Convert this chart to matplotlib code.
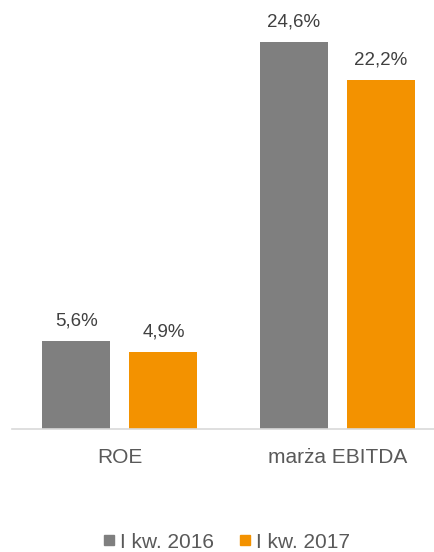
import numpy as np
import matplotlib.pyplot as plt
from matplotlib.lines import Line2D

plt.rcParams['font.family'] = ['Liberation Sans', 'DejaVu Sans']

categories = ['ROE', 'marża EBITDA']
series_names = ['I kw. 2016', 'I kw. 2017']
values_2016 = [5.6, 24.6]
values_2017 = [4.9, 22.2]
labels_2016 = ['5,6%', '24,6%']
labels_2017 = ['4,9%', '22,2%']

gray = '#7F7F7F'
orange = '#F39200'

fig = plt.figure(figsize=(4.35, 5.52), dpi=100)
# axes: x from 12px to 435px, baseline at y=429px from top
ax = fig.add_axes([12 / 435, (552 - 429) / 552, 423 / 435, 429 / 552])

x = np.arange(len(categories))
w = 0.3125
off = 0.2
b1 = ax.bar(x - off, values_2016, w, color=gray)
b2 = ax.bar(x + off, values_2017, w, color=orange)

for bars, labs in ((b1, labels_2016), (b2, labels_2017)):
    for rect, lab in zip(bars, labs):
        ax.annotate(lab, (rect.get_x() + rect.get_width() / 2, rect.get_height()),
                    xytext=(0, 14.5), textcoords='offset points',
                    ha='center', va='center', fontsize=13.5, color='#404040')

ax.set_xlim(-0.4963, 1.448)
ax.set_ylim(0, 24.6 * 429 / 387)
for s in ['top', 'right', 'left']:
    ax.spines[s].set_visible(False)
ax.spines['bottom'].set_color('#D9D9D9')
ax.spines['bottom'].set_linewidth(1.2)
ax.set_yticks([])
ax.set_xticks(x)
ax.set_xticklabels(categories, fontsize=15, color='#595959')
ax.tick_params(axis='x', length=0, pad=14)

handles = [Line2D([], [], marker='s', linestyle='none', markersize=7.2, color=c)
           for c in (gray, orange)]
fig.legend(handles, series_names, loc='center', bbox_to_anchor=(227 / 435, 1 - 542 / 552),
           ncol=2, frameon=False, fontsize=15, labelcolor='#595959',
           handlelength=0.5, handletextpad=0.3, columnspacing=1.2)

fig.savefig('out.png', dpi=100)
